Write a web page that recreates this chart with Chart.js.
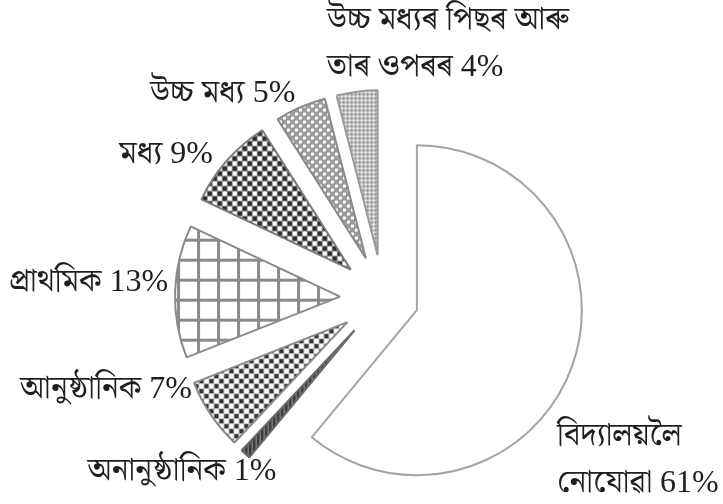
<!DOCTYPE html>
<html><head><meta charset="utf-8">
<script src="https://cdn.jsdelivr.net/npm/chart.js@4"></script>
<style>html,body{margin:0;padding:0;background:#fff}#wrap{width:723px;height:504px}</style>
</head><body><div id="wrap"><canvas id="c" width="723" height="504"></canvas></div>
<script>
// ---- data ----
const categoryLines = [
  ['বিদ্যালয়লৈ', 'নোযোৱা'],
  ['অনানুষ্ঠানিক'],
  ['আনুষ্ঠানিক'],
  ['প্ৰাথমিক'],
  ['মধ্য'],
  ['উচ্চ মধ্য'],
  ['উচ্চ মধ্যৰ পিছৰ আৰু', 'তাৰ ওপৰৰ']
];
const shares = [61, 1, 7, 13, 9, 5, 4];

// ---- style ----
const explode = [36, 43, 43, 43, 43, 43, 43];
const labelAlign = ['left', 'right', 'right', 'right', 'right', 'right', 'left'];
const labelShiftX = [-15, 31, -19, -7, -14, -5, -30];
const labelShiftY = [71, 18, -25, -8.5, -5.5, -14, -71];
const LABEL_GAP = 0;
const LINE_H = 47;

const canvas = document.getElementById('c');
const ctx0 = canvas.getContext('2d');
function makePattern(size, draw) {
  const c = document.createElement('canvas');
  c.width = c.height = size;
  const g = c.getContext('2d');
  draw(g, size);
  return ctx0.createPattern(c, 'repeat');
}
const patMain = '#ffffff';
const pat1 = makePattern(4, (g, s) => { g.fillStyle = '#3c3c3c'; g.fillRect(0, 0, s, s); g.fillStyle = '#9a9a9a'; g.fillRect(0, 0, 1, s); });
const pat7 = makePattern(10, (g, s) => {
  g.fillStyle = '#ffffff'; g.fillRect(0, 0, s, s);
  g.fillStyle = '#c4c4c4'; g.fillRect(4, 0, 1, s); g.fillRect(0, 4, s, 1); g.fillRect(9, 0, 1, s); g.fillRect(0, 9, s, 1);
  g.fillStyle = '#333333'; g.fillRect(0, 0, 4, 4); g.fillRect(5, 5, 4, 4);
});
const pat13 = makePattern(20, (g, s) => {
  g.fillStyle = '#ffffff'; g.fillRect(0, 0, s, s);
  g.fillStyle = '#8a8a8a'; g.fillRect(0, 0, 3, s); g.fillRect(0, 0, s, 3);
});
const pat9 = makePattern(10, (g, s) => {
  g.fillStyle = '#ffffff'; g.fillRect(0, 0, s, s);
  g.fillStyle = '#8f8f8f'; g.fillRect(4, 0, 1, s); g.fillRect(0, 4, s, 1); g.fillRect(9, 0, 1, s); g.fillRect(0, 9, s, 1);
  g.fillStyle = '#2a2a2a'; g.fillRect(0, 0, 4, 4); g.fillRect(5, 5, 4, 4);
});
const pat5 = makePattern(8, (g, s) => {
  g.fillStyle = '#9c9c9c'; g.fillRect(0, 0, s, s);
  g.fillStyle = '#ffffff'; g.fillRect(0, 0, 3, 3); g.fillRect(4, 4, 3, 3);
  g.fillStyle = '#6e6e6e'; g.fillRect(3, 3, 1, 1); g.fillRect(7, 7, 1, 1);
});
const pat4 = makePattern(4, (g, s) => {
  g.fillStyle = '#c4c4c4'; g.fillRect(0, 0, s, s);
  g.fillStyle = '#8e8e8e'; g.fillRect(0, 0, 2, 2);
  g.fillStyle = '#eeeeee'; g.fillRect(2, 2, 2, 2);
});
const fills = [patMain, pat1, pat7, pat13, pat9, pat5, pat4];
const borders = ['#a4a4a4', '#6a6a6a', '#8a8a8a', '#8a8a8a', '#7a7a7a', '#8a8a8a', '#9a9a9a'];

const FONT = '32px "Liberation Serif", "Noto Serif Bengali", "Noto Sans Bengali", "Lohit Bengali", "FreeSerif", serif';

const explodePlugin = {
  id: 'explode',
  beforeDatasetDraw(chart, args) {
    const ctx = chart.ctx;
    args.meta.data.forEach((arc, i) => {
      const mid = (arc.startAngle + arc.endAngle) / 2;
      ctx.save();
      ctx.translate(Math.cos(mid) * explode[i], Math.sin(mid) * explode[i]);
      arc.draw(ctx);
      ctx.restore();
    });
    return false;
  }
};

const labelPlugin = {
  id: 'sliceLabels',
  afterDatasetsDraw(chart) {
    const ctx = chart.ctx;
    const meta = chart.getDatasetMeta(0);
    ctx.save();
    ctx.font = FONT;
    ctx.fillStyle = '#1e1e1e';
    ctx.textBaseline = 'middle';
    meta.data.forEach((arc, i) => {
      const mid = (arc.startAngle + arc.endAngle) / 2;
      const r = arc.outerRadius + explode[i] + LABEL_GAP;
      const x = arc.x + Math.cos(mid) * r + labelShiftX[i];
      const y = arc.y + Math.sin(mid) * r + labelShiftY[i];
      const lines = categoryLines[i].slice();
      lines[lines.length - 1] = lines[lines.length - 1] + ' ' + shares[i] + '%';
      ctx.textAlign = labelAlign[i];
      lines.forEach((t, k) => ctx.fillText(t, x, y + k * LINE_H));
    });
    ctx.restore();
  }
};

new Chart(canvas, {
  type: 'pie',
  data: {
    labels: categoryLines.map(l => l.join(' ')),
    datasets: [{
      data: shares,
      backgroundColor: fills,
      borderColor: borders,
      borderWidth: 2
    }]
  },
  options: {
    responsive: false,
    animation: false,
    radius: 165,
    layout: { padding: { left: 43, right: 0, top: 92, bottom: 0 } },
    plugins: { legend: { display: false }, tooltip: { enabled: false } }
  },
  plugins: [explodePlugin, labelPlugin]
});
</script>
</body></html>
